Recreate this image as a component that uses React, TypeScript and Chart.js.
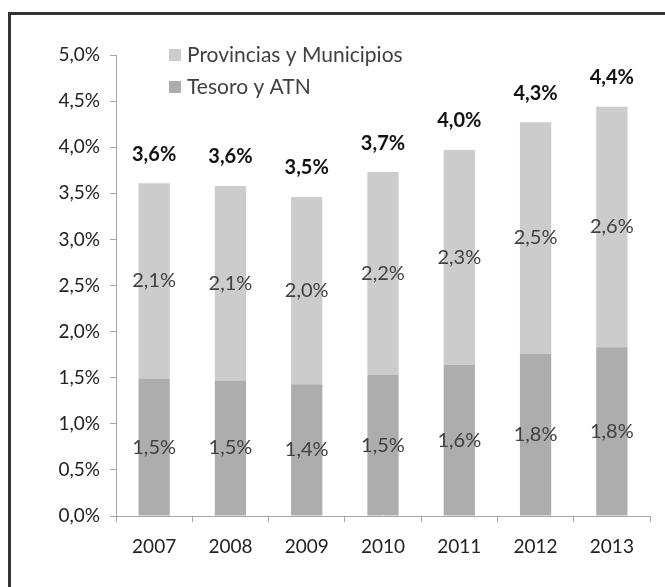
import { useEffect, useRef } from "react";
import { Chart, registerables } from "chart.js";

Chart.register(...registerables);

const years = ["2007", "2008", "2009", "2010", "2011", "2012", "2013"];
const tesoro = [1.49, 1.47, 1.43, 1.53, 1.64, 1.76, 1.83];
const provincias = [2.12, 2.11, 2.03, 2.2, 2.33, 2.51, 2.61];
const seriesNames = ["Tesoro y ATN", "Provincias y Municipios"];
const seriesColors = ["#adadad", "#cccccc"];
const yMin = 0;
const yMax = 5;
const yStep = 0.5;

const FONT = "Lato, 'Noto Sans', sans-serif";
const fmt = (v: number) => v.toFixed(1).replace(".", ",") + "%";

const labelPlugin = {
  id: "labels",
  afterDatasetsDraw(chart: any) {
    const ctx = chart.ctx;
    ctx.save();
    ctx.textAlign = "center";
    ctx.textBaseline = "middle";
    ctx.font = `20px ${FONT}`;
    ctx.fillStyle = "#404040";
    chart.data.datasets.forEach((ds: any, di: number) => {
      const meta = chart.getDatasetMeta(di);
      meta.data.forEach((el: any, i: number) => {
        const y = (el.y + el.base) / 2;
        ctx.fillText(fmt(ds.data[i]), el.x, y);
      });
    });
    const topMeta = chart.getDatasetMeta(chart.data.datasets.length - 1);
    ctx.font = `bold 20px ${FONT}`;
    ctx.fillStyle = "#111111";
    topMeta.data.forEach((el: any, i: number) => {
      const total = tesoro[i] + provincias[i];
      ctx.fillText(fmt(total), el.x, el.y - 29);
    });
    const items = [
      { name: seriesNames[1], color: seriesColors[1], y: 55 },
      { name: seriesNames[0], color: seriesColors[0], y: 87 },
    ];
    ctx.textAlign = "left";
    ctx.font = `21px ${FONT}`;
    items.forEach((it) => {
      ctx.fillStyle = it.color;
      ctx.fillRect(169, it.y - 6, 12, 12);
      ctx.fillStyle = "#404040";
      ctx.fillText(it.name, 187, it.y);
    });
    ctx.restore();
  },
};

export default function App() {
  const ref = useRef<HTMLCanvasElement | null>(null);
  useEffect(() => {
    if (!ref.current) return;
    const chart = new Chart(ref.current, {
      type: "bar",
      data: {
        labels: years,
        datasets: [
          { label: seriesNames[0], data: tesoro, backgroundColor: seriesColors[0] },
          { label: seriesNames[1], data: provincias, backgroundColor: seriesColors[1] },
        ],
      },
      options: {
        animation: false,
        responsive: false,
        devicePixelRatio: 1,
        layout: { padding: { left: 0, top: 55, right: 15, bottom: 0 } },
        datasets: { bar: { categoryPercentage: 1, barPercentage: 0.41 } },
        plugins: { legend: { display: false }, tooltip: { enabled: false } },
        scales: {
          x: {
            stacked: true,
            afterFit: (s: any) => { s.height = 71; },
            grid: { display: true, drawOnChartArea: false, tickLength: 6, color: "#a6a6a6" },
            border: { color: "#a6a6a6", width: 1 },
            ticks: { color: "#222222", font: { family: FONT, size: 19 }, padding: 13 },
          },
          y: {
            stacked: true,
            min: yMin,
            max: yMax,
            afterFit: (s: any) => { s.width = 116; },
            grid: { display: true, drawOnChartArea: false, tickLength: 6, color: "#a6a6a6" },
            border: { color: "#a6a6a6", width: 1 },
            ticks: {
              stepSize: yStep,
              color: "#222222",
              font: { family: FONT, size: 19 },
              padding: 10,
              callback: (v: any) => fmt(Number(v)),
            },
          },
        },
      },
      plugins: [labelPlugin],
    });
    return () => chart.destroy();
  }, []);
  return (
    <div style={{ position: "fixed", left: 0, top: 0, width: 665, height: 587, overflow: "hidden", background: "#fff" }}>
      <div style={{ position: "absolute", left: 8, top: 12, width: 720, height: 720, border: "3px solid #333", boxSizing: "border-box" }} />
      <canvas ref={ref} width={665} height={587} style={{ position: "absolute", left: 0, top: 0 }} />
    </div>
  );
}
